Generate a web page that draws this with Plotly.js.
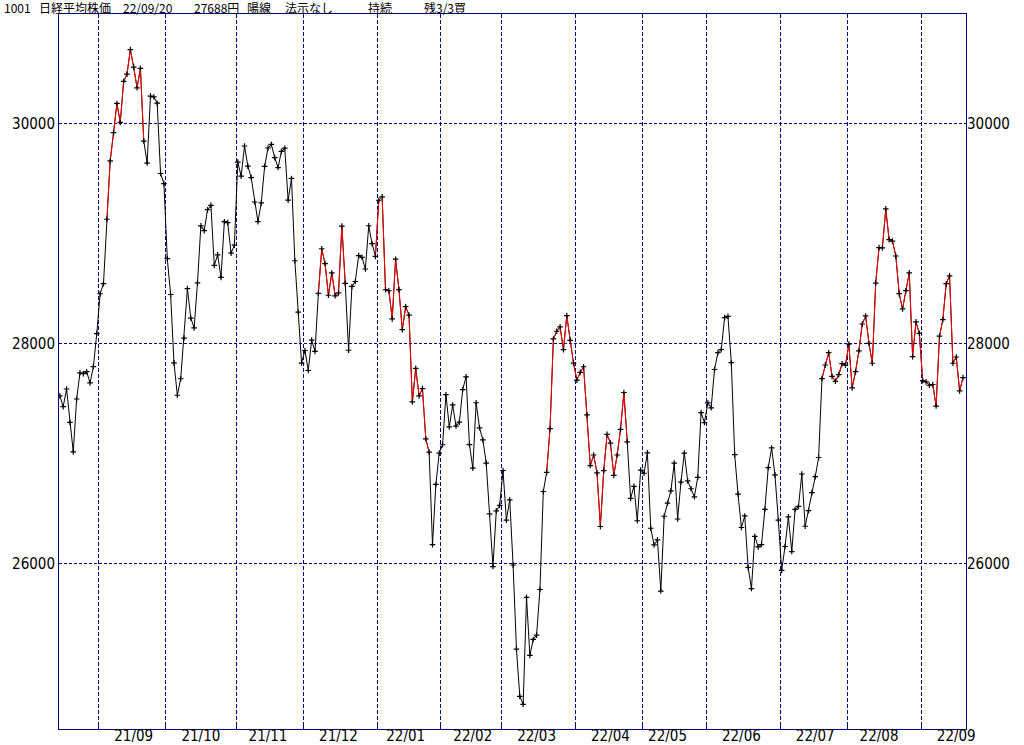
<!DOCTYPE html>
<html>
<head>
<meta charset="utf-8">
<script src="https://cdn.plot.ly/plotly-3.0.1.min.js"></script>
<style>
  html, body { margin: 0; padding: 0; background: #ffffff; }
  #chart { width: 1024px; height: 745px; }
</style>
</head>
<body>
<div id="chart"></div>
<script>
// ---- data (Nikkei 225 daily closes) ----
const monthLabels = ['21/08','21/09','21/10','21/11','21/12','22/01','22/02','22/03','22/04','22/05','22/06','22/07','22/08','22/09'];
const tradingDays = [
  [16,17,18,19,20,23,24,25,26,27,30,31],
  [1,2,3,6,7,8,9,10,13,14,15,16,17,21,22,24,27,28,29,30],
  [1,4,5,6,7,8,11,12,13,14,15,18,19,20,21,22,25,26,27,28,29],
  [1,2,4,5,8,9,10,11,12,15,16,17,18,19,22,24,25,26,29,30],
  [1,2,3,6,7,8,9,10,13,14,15,16,17,20,21,22,23,24,27,28,29,30],
  [4,5,6,7,11,12,13,14,17,18,19,20,21,24,25,26,27,28,31],
  [1,2,3,4,7,8,9,10,14,15,16,17,18,21,22,24,25,28],
  [1,2,3,4,7,8,9,10,11,14,15,16,17,18,22,23,24,25,28,29,30,31],
  [1,4,5,6,7,8,11,12,13,14,15,18,19,20,21,22,25,26,27,28],
  [2,6,9,10,11,12,13,16,17,18,19,20,23,24,25,26,27,30,31],
  [1,2,3,6,7,8,9,10,13,14,15,16,17,20,21,22,23,24,27,28,29,30],
  [1,4,5,6,7,8,11,12,13,14,15,19,20,21,22,25,26,27,28,29],
  [1,2,3,4,5,8,9,10,12,15,16,17,18,19,22,23,24,25,26,29,30,31],
  [1,2,5,6,7,8,9,12,13,14,15,16,20]
];
const closes = [
  27523,27424,27585,27281,27013,27494,27732,27724,27742,27641,27789,28089,
  28451,28543,29128,29659,29916,30181,30008,30381,30447,30670,30511,30323,30500,29839,29639,30248,30240,30183,29544,29452,
  28771,28444,27822,27528,27678,28048,28498,28230,28140,28550,29068,29025,29215,29255,28708,28804,28600,29106,29098,28820,28892,
  29647,29520,29794,29611,29507,29285,29106,29277,29609,29776,29808,29688,29598,29745,29774,29302,29499,28751,28283,27821,
  27935,27753,28029,27927,28455,28860,28725,28437,28640,28432,28459,29066,28545,27937,28517,28562,28798,28782,28676,29069,28906,28791,
  29301,29332,28487,28478,28222,28765,28489,28124,28333,28257,27467,27772,27522,27588,27131,27011,26170,26717,27002,
  27078,27533,27241,27440,27248,27284,27580,27696,27080,26866,27460,27232,27122,26911,26450,25971,26477,26527,
  26844,26393,26577,25985,25221,24791,24718,25691,25163,25308,25347,25762,26653,26827,27224,28040,28110,28150,27943,28252,28027,27821,
  27666,27736,27787,27350,26889,26985,26822,26335,26843,27172,27093,26800,26985,27218,27553,27105,26591,26700,26387,26848,
  26819,27004,26319,26167,26213,25748,26428,26547,26659,26911,26403,26739,27002,26749,26678,26605,26782,27370,27280,
  27458,27414,27762,27916,27944,28234,28246,27824,26988,26630,26326,26431,25963,25771,26246,26149,26171,26491,26871,27049,26804,26393,
  25936,26153,26423,26107,26490,26517,26812,26337,26479,26643,26788,26962,27680,27803,27915,27700,27655,27716,27815,27802,
  27993,27595,27742,27932,28176,28249,27999,27819,28547,28871,28868,29222,28942,28930,28794,28452,28313,28479,28641,27879,28195,28091,
  27661,27650,27619,27626,27430,28065,28215,28542,28614,27819,27876,27567,27688
];
// runs of red ("signal on") segments: from the first date to the point after the last date
const redRuns = [
  ['21/09/03','21/09/17'],
  ['21/12/07','21/12/16'],
  ['21/12/30','22/01/25'],
  ['22/03/18','22/04/21'],
  ['22/07/20','22/09/16']
];
const yTicks = [26000, 28000, 30000];
const titleParts = ['1001', '日経平均株価', '22/09/20', '27688円', '陽線', '法示なし', '持続', '残3/3買'];
const titleLeft  = [2, 37, 121, 192, 245, 283, 366, 422];

// ---- derived ----
const dates = [];
monthLabels.forEach((m, k) => tradingDays[k].forEach(d => dates.push(m + '/' + String(d).padStart(2, '0'))));
const idx = closes.map((_, i) => i);

const bounds = [], labelPos = [], labelText = [];
monthLabels.forEach((m, k) => {
  if (k === 0) return;
  const first = dates.findIndex(s => s.startsWith(m + '/'));
  bounds.push(first - 0.5);
  const mid = dates.findIndex(s => s.startsWith(m + '/') && +s.slice(6) >= 15);
  labelPos.push(mid);
  labelText.push(m);
});

const redX = [], redY = [];
redRuns.forEach(([a, b]) => {
  const s = dates.indexOf(a), e = dates.indexOf(b);
  for (let i = s; i <= e + 1 && i < closes.length; i++) { redX.push(i); redY.push(closes[i]); }
  redX.push(null); redY.push(null);
});

const NAVY = '#000080';
const xRange = [-0.25, 269.9];
const yRange = [24494, 30994];
const tickFont = { family: 'Liberation Sans Narrow, DejaVu Sans Condensed, Arial Narrow, Liberation Sans, sans-serif', size: 15, color: '#000000' };

const traces = [
  { x: idx, y: closes, mode: 'lines', line: { color: '#000000', width: 1 }, hoverinfo: 'skip', xaxis: 'x', yaxis: 'y' },
  { x: redX, y: redY, mode: 'lines', line: { color: '#ff0000', width: 1 }, connectgaps: false, hoverinfo: 'skip', xaxis: 'x', yaxis: 'y' },
  { x: idx, y: closes, mode: 'markers', marker: { symbol: 'cross-thin', size: 4, color: '#000000', line: { color: '#000000', width: 1.2 } }, hoverinfo: 'skip', xaxis: 'x', yaxis: 'y' },
  { x: labelPos, y: labelPos.map(() => null), mode: 'markers', hoverinfo: 'skip', xaxis: 'x2', yaxis: 'y2' }
];

const annotations = titleParts.map((t, i) => ({
  text: t, xref: 'paper', yref: 'paper',
  x: (titleLeft[i] - 59) / 907, y: 1 + (14 - 8) / 715,
  xanchor: 'left', yanchor: 'middle', showarrow: false,
  font: { family: 'Noto Sans CJK JP, sans-serif', size: 12, color: '#000000' }
}));

const layout = {
  width: 1024, height: 745,
  margin: { l: 59, r: 58, t: 14, b: 16, pad: 0 },
  paper_bgcolor: '#ffffff', plot_bgcolor: '#ffffff',
  showlegend: false,
  xaxis: {
    range: xRange, tickmode: 'array', tickvals: bounds, showticklabels: false,
    ticks: 'inside', ticklen: 4, tickcolor: NAVY, tickwidth: 1,
    showgrid: true, gridcolor: NAVY, gridwidth: 1, griddash: '4px,2px',
    showline: true, mirror: true, linecolor: NAVY, linewidth: 1, zeroline: false, fixedrange: true
  },
  yaxis: {
    range: yRange, tickmode: 'array', tickvals: yTicks, ticktext: yTicks.map(String),
    ticks: '', showgrid: true, gridcolor: NAVY, gridwidth: 1, griddash: '3px,2px',
    showline: true, mirror: true, linecolor: NAVY, linewidth: 1, zeroline: false,
    tickfont: tickFont, fixedrange: true
  },
  xaxis2: {
    overlaying: 'x', anchor: 'y2', side: 'bottom', range: xRange,
    tickmode: 'array', tickvals: labelPos, ticktext: labelText, ticks: '',
    ticklabelstandoff: -4,
    showgrid: false, showline: false, zeroline: false, tickfont: tickFont, fixedrange: true
  },
  yaxis2: {
    overlaying: 'y', anchor: 'x2', side: 'right', range: yRange,
    tickmode: 'array', tickvals: yTicks, ticktext: yTicks.map(String), ticks: '',
    showgrid: false, showline: false, zeroline: false, tickfont: tickFont, fixedrange: true
  },
  annotations: annotations
};

Plotly.newPlot('chart', traces, layout, { staticPlot: true, displayModeBar: false });
</script>
</body>
</html>
